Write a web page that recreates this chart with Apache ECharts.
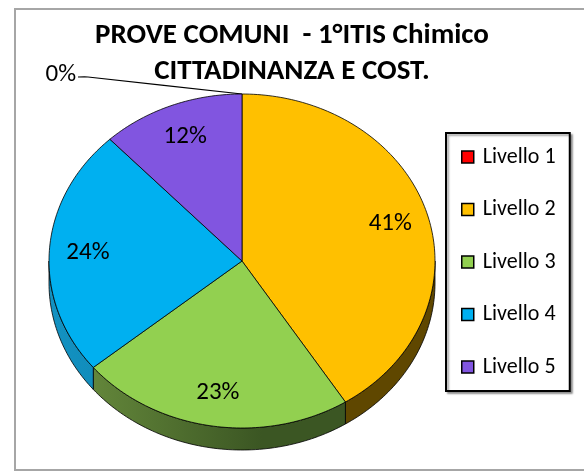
<!DOCTYPE html>
<html>
<head>
<meta charset="utf-8">
<script src="https://cdn.jsdelivr.net/npm/echarts@6/dist/echarts.min.js"></script>
<style>
  html, body { margin: 0; padding: 0; background: #fff; }
  #chart { width: 584px; height: 472px; }
</style>
</head>
<body>
<div id="chart"></div>
<script>
// dati
const categories = ['Livello 1', 'Livello 2', 'Livello 3', 'Livello 4', 'Livello 5']
const values = [0, 41, 23, 24, 12]
const topColors = ['#FF0000', '#FFC000', '#92D050', '#00B0F0', '#8155E0']
const sideLight = ['#b00000', '#6e5300', '#6d9240', '#1392c2', '#5b3aa8']
const sideDark = ['#7a0000', '#5f4700', '#3b5623', '#0a79a3', '#43287f']

const FONT = 'Carlito, Lato, "Liberation Sans", sans-serif'
const CX = 242, CY = 261, RX = 193, RY = 167, DEPTH = 22
const total = values.reduce((a, b) => a + b, 0)

function pt (a, dy) {
  return [CX + RX * Math.sin(a), CY - RY * Math.cos(a) + (dy || 0)]
}
function arcPts (a0, a1, dy) {
  const n = Math.max(2, Math.ceil((a1 - a0) / 0.02))
  const out = []
  for (let k = 0; k <= n; k++) out.push(pt(a0 + (a1 - a0) * k / n, dy))
  return out
}

function renderSlice (i) {
  return function (params, api) {
    const before = values.slice(0, i).reduce((a, b) => a + b, 0)
    const v = api.value(0)
    const a0 = before / total * 2 * Math.PI
    const a1 = (before + v) / total * 2 * Math.PI
    const children = []
    // parete laterale
    const s0 = Math.max(a0, Math.PI / 2), s1 = Math.min(a1, 3 * Math.PI / 2)
    if (s1 > s0) {
      const top = arcPts(s0, s1, 0)
      const bot = arcPts(s0, s1, DEPTH).reverse()
      children.push({
        type: 'polygon',
        shape: { points: top.concat(bot) },
        style: {
          fill: new echarts.graphic.LinearGradient(CX - RX, 0, CX + 20, 0, [
            { offset: 0, color: sideLight[i] },
            { offset: 1, color: sideDark[i] }
          ], true),
          stroke: '#000', lineWidth: 0.8
        }
      })
    }
    // faccia superiore
    if (a1 > a0) {
      children.push({
        type: 'polygon',
        shape: { points: [[CX, CY]].concat(arcPts(a0, a1, 0)) },
        style: { fill: topColors[i], stroke: '#000', lineWidth: 0.8 }
      })
    }
    // etichetta
    const pct = Math.round(v / total * 100) + '%'
    if (v > 0) {
      const mid = (a0 + a1) / 2
      const p = [CX + RX * 0.8 * Math.sin(mid), CY - RY * 0.8 * Math.cos(mid)]
      children.push({
        type: 'text',
        style: { x: p[0], y: p[1], text: pct, fill: '#000', font: '25px ' + FONT, align: 'center', verticalAlign: 'middle' }
      })
    } else {
      const e = pt(a0, 0)
      const lx = e[0] - 164, ly = e[1] - 17
      children.push({
        type: 'polyline',
        shape: { points: [[lx, ly], [lx + 10, ly], [e[0], e[1]]], smooth: 0.2 },
        style: { stroke: '#000', lineWidth: 1.2, fill: null }
      })
      children.push({
        type: 'text',
        style: { x: lx - 2, y: ly - 2, text: pct, fill: '#000', font: '25px ' + FONT, align: 'right', verticalAlign: 'middle' }
      })
    }
    return { type: 'group', children: children }
  }
}

const myChart = echarts.init(document.getElementById('chart'))

const option = {
  animation: false,
  title: {
    text: 'PROVE COMUNI  - 1°ITIS Chimico\nCITTADINANZA E COST.',
    left: 'center',
    top: 13,
    textStyle: { fontFamily: FONT, fontSize: 29, fontWeight: 'bold', color: '#000', lineHeight: 36 }
  },
  legend: {
    orient: 'vertical',
    left: 446,
    top: 133,
    selectedMode: false,
    data: categories,
    icon: 'rect',
    itemWidth: 12,
    itemHeight: 12,
    itemGap: 28.5,
    padding: [12, 9, 12, 15],
    borderColor: '#000',
    borderWidth: 2,
    shadowColor: 'rgba(0,0,0,0.35)',
    shadowBlur: 2,
    shadowOffsetX: 2,
    shadowOffsetY: 2,
    backgroundColor: '#fff',
    itemStyle: { borderColor: '#000', borderWidth: 1.5 },
    textStyle: { fontFamily: FONT, fontSize: 22, color: '#000', lineHeight: 24, width: 78, padding: [0, 0, 0, 4] }
  },
  graphic: [
    {
      type: 'rect',
      shape: { x: 15, y: 9, width: 600, height: 461 },
      style: { fill: null, stroke: '#a6a6a6', lineWidth: 2 },
      silent: true
    }
  ],
  series: categories.map((name, i) => ({
    type: 'custom',
    name: name,
    coordinateSystem: 'none',
    itemStyle: { color: topColors[i] },
    renderItem: renderSlice(i),
    data: [[values[i]]]
  }))
}

myChart.setOption(option)
</script>
</body>
</html>
